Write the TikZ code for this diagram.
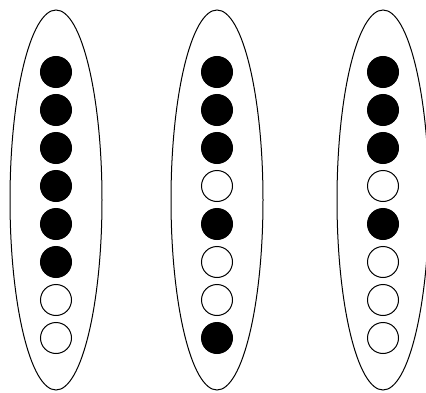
\documentclass[tikz,border=0pt]{standalone}
\usetikzlibrary{shapes.geometric}
\begin{document}
\begin{tikzpicture}[
    x=1pt,
    y=1pt,
    group/.style={
        ellipse,
        draw,
        line width=1pt,
        minimum width=92pt,
        minimum height=380pt,
        inner sep=0pt
    },
    bead/.style={
        circle,
        draw,
        line width=1pt,
        minimum size=31pt,
        inner sep=0pt
    },
    on/.style={
        bead,
        fill=black
    },
    off/.style={
        bead,
        fill=white
    }
]
\useasboundingbox (0,0) rectangle (426,392);

% Groups
\node [group] (g1) at (56,192) {};
\node [group] (g2) at (217,192) {};
\node [group] (g3) at (383,192) {};

% Beads
\foreach \st [count=\i] in {on,on,on,on,on,on,off,off}
    \node [\st] (a\i) at (56,{320-38*(\i-1)}) {};
\foreach \st [count=\i] in {on,on,on,off,on,off,off,on}
    \node [\st] (b\i) at (217,{320-38*(\i-1)}) {};
\foreach \st [count=\i] in {on,on,on,off,on,off,off,off}
    \node [\st] (c\i) at (383,{320-38*(\i-1)}) {};

\end{tikzpicture}
\end{document}
